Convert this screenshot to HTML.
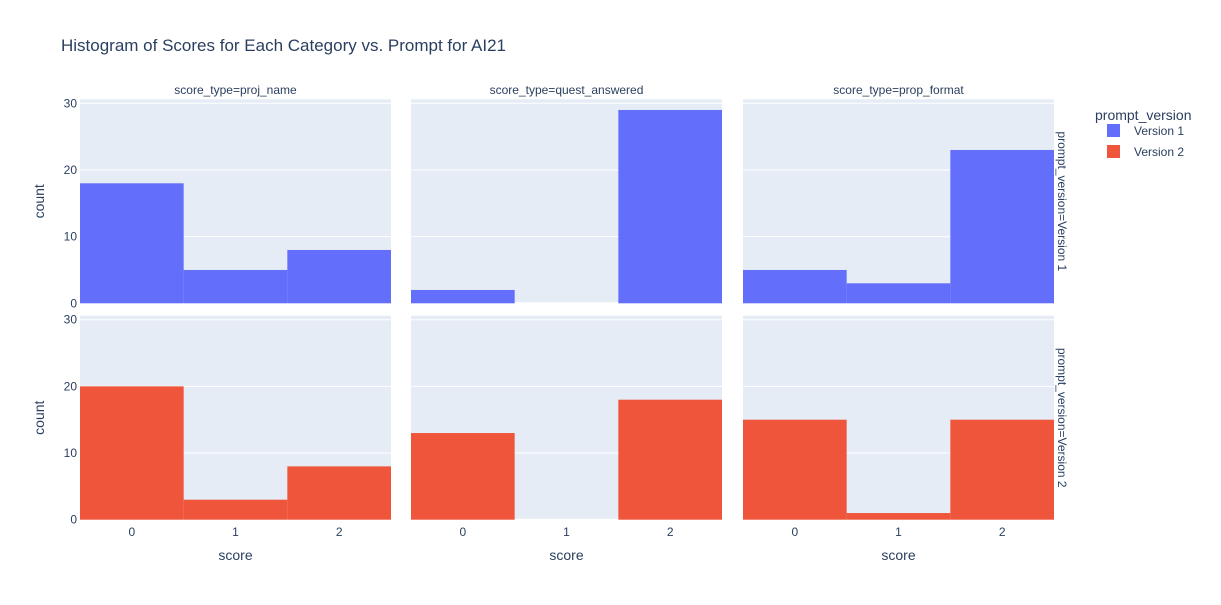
<!DOCTYPE html>
<html><head><meta charset="utf-8"><style>
body{margin:0;background:#fff;font-family:"Liberation Sans",sans-serif;}
svg text{font-family:"Liberation Sans",sans-serif;fill:#2a3f5f;}
</style></head><body>
<svg id="c" width="1221" height="600" xmlns="http://www.w3.org/2000/svg">
<text x="61" y="51" font-size="17">Histogram of Scores for Each Category vs. Prompt for AI21</text>
<g id="g"></g>
<text x="1095" y="120" font-size="14">prompt_version</text>
<g><rect x="1107" y="124" width="13" height="13" fill="#636efa"/><text x="1134" y="135" font-size="12">Version 1</text></g>
<g><rect x="1107" y="145" width="13" height="13" fill="#ef553b"/><text x="1134" y="156" font-size="12">Version 2</text></g>
</svg>
<script>
const categories=["proj_name","quest_answered","prop_format"];
const scores=[0,1,2];
const version1=[[18,5,8],[2,0,29],[5,3,23]];
const version2=[[20,3,8],[13,0,18],[15,1,15]];
const yTicks=[0,10,20,30];
const colors=["#636efa","#ef553b"];
const NS="http://www.w3.org/2000/svg";
const g=document.getElementById("g");
const colX=[80,411,743],pw=311,rowBottom=[303.3,519.7],ph=204,yMax=30.6;
function mk(t,a,p){const e=document.createElementNS(NS,t);for(const k in a)e.setAttribute(k,a[k]);(p||g).appendChild(e);return e;}
const sx=(c,v)=>colX[c]+(v+0.5)/3*pw;
const sy=(r,v)=>rowBottom[r]-v/yMax*ph;
[version1,version2].forEach((series,r)=>{
 categories.forEach((cat,c)=>{
  const bg=mk("rect",{x:colX[c],y:rowBottom[r]-ph,width:pw,height:ph,fill:"#e5ecf6"});
  
  
  yTicks.forEach(t=>{
   const l=mk("line",{x1:colX[c],x2:colX[c]+pw,y1:sy(r,t),y2:sy(r,t),stroke:"#fff","stroke-width":t==0?2:1});
   
   
   if(c==0){const tx=mk("text",{x:colX[0]-3,y:sy(r,t)+4,"font-size":12,"text-anchor":"end"});tx.textContent=t;
    
    }
  });
  series[c].forEach((v,i)=>{
   const b=mk("rect",{x:sx(c,i-0.5),y:sy(r,v),width:pw/3,height:v/yMax*ph,fill:colors[r]});
   
   
  });
  if(r==0){const t=mk("text",{x:colX[c]+pw/2,y:94,"font-size":12,"text-anchor":"middle"});t.textContent="score_type="+cat;
   
   }
  if(r==1){scores.forEach(s=>{const t=mk("text",{x:sx(c,s),y:536,"font-size":12,"text-anchor":"middle"});t.textContent=s;
    
    });
   const xt=mk("text",{x:colX[c]+pw/2,y:560,"font-size":14,"text-anchor":"middle"});xt.textContent="score";
   
   }
 });
 const yt=mk("text",{x:0,y:0,"font-size":14,"text-anchor":"middle",transform:`translate(44,${rowBottom[r]-ph/2}) rotate(-90)`});yt.textContent="count";
 
 
 const rl=mk("text",{x:0,y:0,"font-size":12,"text-anchor":"middle",transform:`translate(1058,${rowBottom[r]-ph/2}) rotate(90)`});rl.textContent="prompt_version=Version "+(r+1);
 
 
});
</script>
</body></html>
